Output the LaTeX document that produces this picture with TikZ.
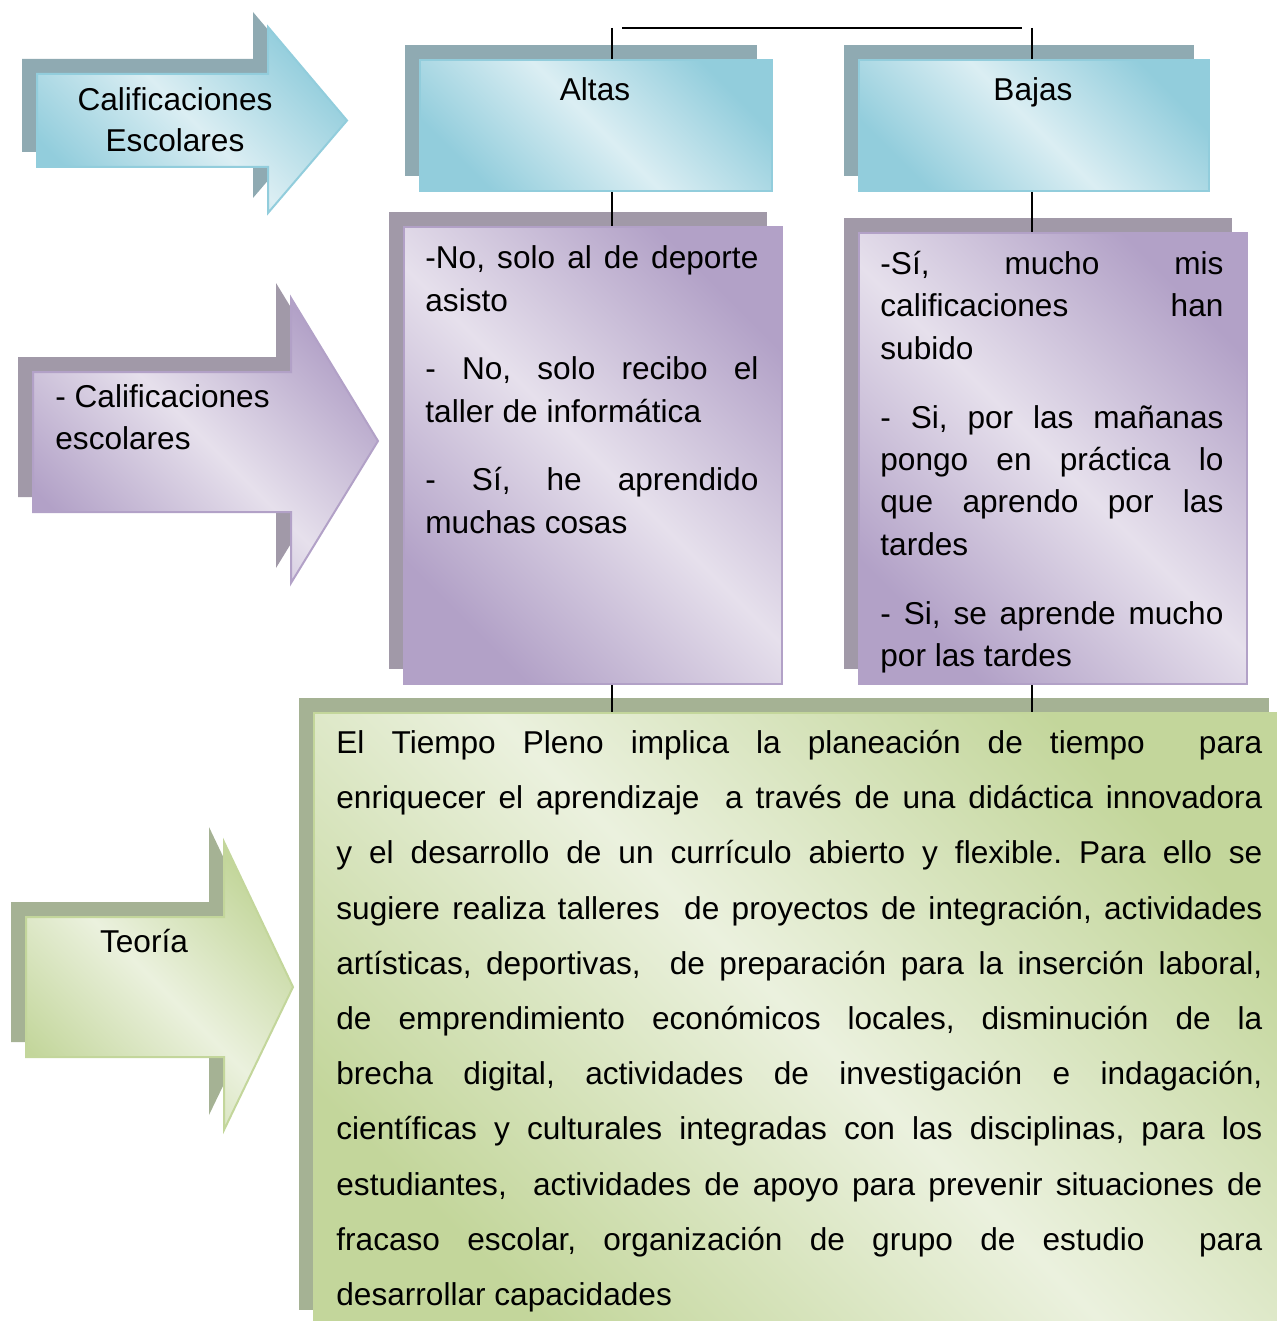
\documentclass[tikz,border=0pt]{standalone}
\usepackage{fontspec}
\setmainfont{Liberation Sans}
\usetikzlibrary{shadows}
\definecolor{bluedark}{HTML}{92CDDC}
\definecolor{bluelight}{HTML}{DBEEF3}
\definecolor{blueshadow}{HTML}{8FAAB2}
\definecolor{purpdark}{HTML}{B2A1C7}
\definecolor{purplight}{HTML}{E6E0EC}
\definecolor{purpshadow}{HTML}{A199A8}
\definecolor{greendark}{HTML}{C3D69B}
\definecolor{greenlight}{HTML}{EBF1DE}
\definecolor{greenshadow}{HTML}{A5B294}
\hbadness=10000 \hfuzz=30pt \tolerance=10000 \pretolerance=-1 \hyphenpenalty=10000
\frenchspacing
\begin{document}
\begin{tikzpicture}[x=0.5pt,y=-0.5pt,
  gshade/.style 2 args={top color=#1, bottom color=#1, middle color=#2, shading angle=-45},
  sh/.style={general shadow={fill=#1, shadow xshift=-7.5pt, shadow yshift=7.5pt}},
  bluebox/.style={draw=bluedark, line width=1pt, gshade={bluedark}{bluelight}, sh=blueshadow, inner sep=0pt, anchor=north west},
  purpbox/.style={draw=purpdark, line width=1pt, gshade={purpdark}{purplight}, sh=purpshadow, inner sep=0pt, anchor=north west},
  greenbox/.style={draw=greendark, line width=1pt, gshade={greendark}{greenlight}, sh=greenshadow, inner sep=0pt, anchor=north west},
  txt/.style={font=\fontsize{15.8pt}{20.5pt}\selectfont, inner sep=0pt, text=black},
  para/.style 2 args={inner sep=0pt, text width=#1, align=justify, anchor=north west, font={\fontsize{15.8pt}{#2}\selectfont}},
  conn/.style={draw=black, line width=0.75pt},
  bar/.style={draw=black, line width=1.2pt}
]
\useasboundingbox (0,0) rectangle (1277,1321);
\clip (0,0) rectangle (1277,1321);

% arrows
\path[draw=bluedark, line width=1pt, gshade={bluedark}{bluelight}, sh=blueshadow]
  (37,74) -- (268,74) -- (268,27) -- (347,120.5) -- (268,213) -- (268,167) -- (37,167) -- cycle;
\node[txt, align=center] (a1T) at (175,119.5) {Calificaciones\\Escolares};

\path[draw=purpdark, line width=1pt, gshade={purpdark}{purplight}, sh=purpshadow]
  (33,372) -- (291,372) -- (291,298) -- (378,441) -- (291,583) -- (291,512) -- (33,512) -- cycle;
\node[txt, align=left, anchor=west, font=\fontsize{15.8pt}{21pt}\selectfont] (a2T) at (55,417) {- Calificaciones\\escolares};

\path[draw=greendark, line width=1pt, gshade={greendark}{greenlight}, sh=greenshadow]
  (26,917) -- (224,917) -- (224,842) -- (293,987) -- (224,1130) -- (224,1057) -- (26,1057) -- cycle;
\node[txt, anchor=base] (a3T) at (144,952) {Teoría};

% boxes
\node[bluebox, minimum width=176pt, minimum height=65.5pt] (altas) at (419,59) {};
\node[bluebox, minimum width=175pt, minimum height=65.5pt] (bajas) at (858,59) {};
\node[purpbox, minimum width=189pt, minimum height=228.5pt] (noA) at (403,226) {};
\node[purpbox, minimum width=194pt, minimum height=225.5pt] (siB) at (858,232) {};
\node[greenbox, minimum width=485pt, minimum height=306pt] (teo) at (313,712) {};

% connectors
\coordinate (jl) at (612,28);
\coordinate (jr) at (1032,28);
\coordinate (hl) at (622,28);
\coordinate (hr) at (1022,28);
\draw[bar] (hl) -- (hr);
\draw[conn] (jl) -- (jl |- altas.north);
\draw[conn] (jl |- altas.south) -- (jl |- noA.north);
\draw[conn] (jl |- noA.south) -- (jl |- teo.north);
\draw[conn] (jr) -- (jr |- bajas.north);
\draw[conn] (jr |- bajas.south) -- (jr |- siB.north);
\draw[conn] (jr |- siB.south) -- (jr |- teo.north);

% texts
\node[txt, anchor=base] (altasT) at (595,101) {Altas};
\node[txt, anchor=base] (bajasT) at (1033,101) {Bajas};

\node[para={166.5pt}{21.5pt}] (noAT) at (425,238) {\setlength\parindent{0pt}\setlength\parskip{12.5pt}%
\strut -No, solo al de deporte\linebreak asisto\par
- No, solo recibo el\linebreak taller de informática\par
- Sí, he aprendido\linebreak muchas cosas\par};

\node[para={171.5pt}{21.15pt}] (siBT) at (880,244.5) {\setlength\parindent{0pt}\setlength\parskip{13.35pt}%
\strut -Sí, mucho mis\linebreak calificaciones han\linebreak subido\par
- Si, por las mañanas\linebreak pongo en práctica lo\linebreak que aprendo por las\linebreak tardes\par
- Si, se aprende mucho\linebreak por las tardes\par};

\node[para={463pt}{27.6pt}] (teoT) at (336,714.5) {\setlength\parindent{0pt}%
\strut El Tiempo Pleno implica la planeación de tiempo\ \ para\linebreak
enriquecer el aprendizaje\ \ a través de una didáctica innovadora\linebreak
y el desarrollo de un currículo abierto y flexible. Para ello se\linebreak
sugiere realiza talleres\ \ de proyectos de integración, actividades\linebreak
artísticas, deportivas,\ \ de preparación para la inserción laboral,\linebreak
de emprendimiento económicos locales, disminución de la\linebreak
brecha digital, actividades de investigación e indagación,\linebreak
científicas y culturales integradas con las disciplinas, para los\linebreak
estudiantes,\ \ actividades de apoyo para prevenir situaciones de\linebreak
fracaso escolar, organización de grupo de estudio\ \ para\linebreak
desarrollar capacidades\par};
\end{tikzpicture}
\end{document}
